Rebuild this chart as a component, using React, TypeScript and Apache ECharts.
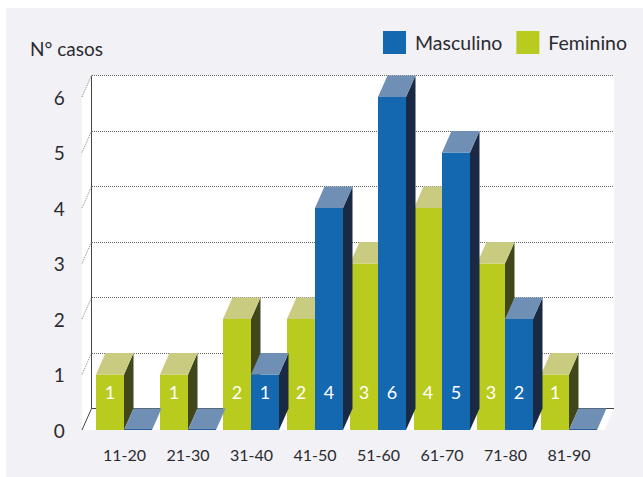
import React, { useEffect, useRef } from "react";
import * as echarts from "echarts";

const ageGroups = ["11-20", "21-30", "31-40", "41-50", "51-60", "61-70", "71-80", "81-90"];
const femenino = [1, 1, 2, 2, 3, 4, 3, 1];
const masculino = [0, 0, 1, 4, 6, 5, 2, 0];
const yTicks = [0, 1, 2, 3, 4, 5, 6];

const FONT = "Lato, 'Open Sans', sans-serif";
const BAR_WIDTH = 28;
const DEPTH_X = 9.5;
const DEPTH_Y = 21.5;
const LABEL_RISE = 38;
const WALL_LEFT_INSET = 10.75;
const WALL_RIGHT_EXTRA = 13.25;

type Palette = { front: string; top: string; side: string; edge: string };
const femPalette: Palette = { front: "#b9cb1e", top: "#c9cc80", side: "#41461b", edge: "#c9cc80" };
const mascPalette: Palette = { front: "#1468b0", top: "#6f90b4", side: "#1a2a45", edge: "#2a6098" };

// Keeps one-pixel strokes on the pixel grid.
const crisp = (v: number) => Math.floor(v) + 0.5;

// Extruded bar: front face, slanted top and dark right side, with the value on the front.
function barRenderer(palette: Palette, side: "left" | "right") {
  return (_params: any, api: any) => {
    const idx = api.value(0);
    const value = api.value(1);
    const [cx, yTop] = api.coord([idx, value]);
    const [, yBase] = api.coord([idx, 0]);
    const seam = Math.floor(cx);
    const x0 = side === "left" ? seam - BAR_WIDTH : seam;
    const x1 = x0 + BAR_WIDTH;
    const children: any[] = [];
    if (value > 0) {
      children.push({
        type: "polygon",
        shape: { points: [[x1, yTop], [x1 + DEPTH_X, yTop - DEPTH_Y], [x1 + DEPTH_X, yBase - DEPTH_Y], [x1, yBase]] },
        style: { fill: palette.side },
      });
      children.push({
        type: "rect",
        shape: { x: x0, y: yTop, width: BAR_WIDTH, height: yBase - yTop },
        style: { fill: palette.front },
      });
    }
    children.push({
      type: "polygon",
      shape: { points: [[x0, yTop], [x0 + DEPTH_X, yTop - DEPTH_Y], [x1 + DEPTH_X, yTop - DEPTH_Y], [x1, yTop]] },
      style: { fill: palette.top },
    });
    if (value === 0) {
      children.push({
        type: "line",
        shape: { x1: x0, y1: yBase - 0.5, x2: x1, y2: yBase - 0.5 },
        style: { stroke: palette.edge, lineWidth: 1 },
      });
    } else {
      children.push({
        type: "text",
        style: {
          text: String(value),
          x: (x0 + x1) / 2,
          y: yBase - LABEL_RISE,
          align: "center",
          verticalAlign: "middle",
          fill: "#ffffff",
          font: `18px ${FONT}`,
        },
      });
    }
    return { type: "group", children };
  };
}

// Back wall and floor: one dotted gridline per tick, plus the white plane behind the bars.
function wallRenderer(params: any, api: any) {
  const tick = api.value(1);
  const rect = params.coordSys;
  const left = rect.x - WALL_LEFT_INSET;
  const wallX = left + DEPTH_X;
  const wallRight = rect.x + rect.width + WALL_RIGHT_EXTRA;
  const [, y] = api.coord([0, tick]);
  const [, yBase] = api.coord([0, 0]);
  const [, yMax] = api.coord([0, yTicks[yTicks.length - 1]]);
  const children: any[] = [];
  if (tick === 0) {
    children.push({
      type: "polygon",
      shape: {
        points: [
          [left, yMax],
          [wallX, yMax - DEPTH_Y],
          [wallRight, yMax - DEPTH_Y],
          [wallRight, yBase - DEPTH_Y],
          [wallRight - DEPTH_X, yBase],
          [left, yBase],
        ],
      },
      style: { fill: "#ffffff" },
    });
    children.push({
      type: "polyline",
      shape: { points: [[left, yBase], [crisp(wallX), crisp(yBase - DEPTH_Y)], [wallRight, crisp(yBase - DEPTH_Y)]] },
      style: { stroke: "#444444", lineWidth: 1, fill: "none" },
    });
    children.push({
      type: "line",
      shape: { x1: crisp(wallX), y1: yMax - DEPTH_Y, x2: crisp(wallX), y2: yBase - DEPTH_Y },
      style: { stroke: "#444444", lineWidth: 1 },
    });
  } else {
    // Whole-pixel start so the dots do not blur into a continuous grey line.
    children.push({
      type: "line",
      shape: { x1: Math.ceil(wallX), y1: crisp(y - DEPTH_Y), x2: wallRight, y2: crisp(y - DEPTH_Y) },
      style: { stroke: "#666666", lineWidth: 1, lineDash: [1, 1] },
    });
    children.push({
      type: "line",
      shape: { x1: left, y1: y, x2: wallX, y2: y - DEPTH_Y },
      style: { stroke: "#888888", lineWidth: 1, lineDash: [1, 1] },
    });
  }
  return { type: "group", children };
}

export default function App() {
  const ref = useRef<HTMLDivElement>(null);

  useEffect(() => {
    const chart = echarts.init(ref.current!, undefined, { renderer: "svg" });
    chart.setOption({
      animation: false,
      graphic: [
        {
          type: "rect",
          z: -10,
          silent: true,
          shape: { x: 6, y: 8, width: 637, height: 469 },
          style: { fill: "#f1f1f6" },
        },
        {
          type: "text",
          x: 30,
          y: 48,
          silent: true,
          style: {
            text: "N° casos",
            fill: "#2b2b2f",
            font: `19px ${FONT}`,
            verticalAlign: "middle",
          },
        },
      ],
      grid: { left: 92.75, right: 42.25, top: 97, bottom: 47 },
      legend: {
        left: 378,
        top: 26,
        itemWidth: 23,
        itemHeight: 23,
        itemGap: 14,
        icon: "rect",
        data: ["Masculino", "Feminino"],
        selectedMode: false,
        textStyle: { color: "#2b2b2f", fontFamily: FONT, fontSize: 19.5, padding: [0, 0, 0, 4] },
      },
      xAxis: {
        type: "category",
        data: ageGroups,
        axisLine: { show: false },
        axisTick: { show: false },
        axisLabel: { color: "#2b2b2f", fontFamily: FONT, fontSize: 16, margin: 16 },
      },
      yAxis: {
        type: "value",
        min: 0,
        max: 6,
        interval: 1,
        axisLine: { show: false },
        axisTick: { show: false },
        splitLine: { show: false },
        axisLabel: { color: "#2b2b2f", fontFamily: FONT, fontSize: 19, margin: 28 },
      },
      series: [
        {
          type: "custom",
          name: "Planos",
          silent: true,
          renderItem: wallRenderer,
          data: yTicks.map((t) => [0, t]),
          encode: { x: 0, y: 1 },
        },
        {
          type: "custom",
          name: "Feminino",
          silent: true,
          itemStyle: { color: femPalette.front },
          renderItem: barRenderer(femPalette, "left"),
          data: femenino.map((v, i) => [i, v]),
          encode: { x: 0, y: 1 },
        },
        {
          type: "custom",
          name: "Masculino",
          silent: true,
          itemStyle: { color: mascPalette.front },
          renderItem: barRenderer(mascPalette, "right"),
          data: masculino.map((v, i) => [i, v]),
          encode: { x: 0, y: 1 },
        },
      ],
    });
    return () => chart.dispose();
  }, []);

  return (
    <div
      ref={ref}
      style={{ position: "absolute", left: 0, top: 0, width: 643, height: 477, background: "#ffffff" }}
    />
  );
}
